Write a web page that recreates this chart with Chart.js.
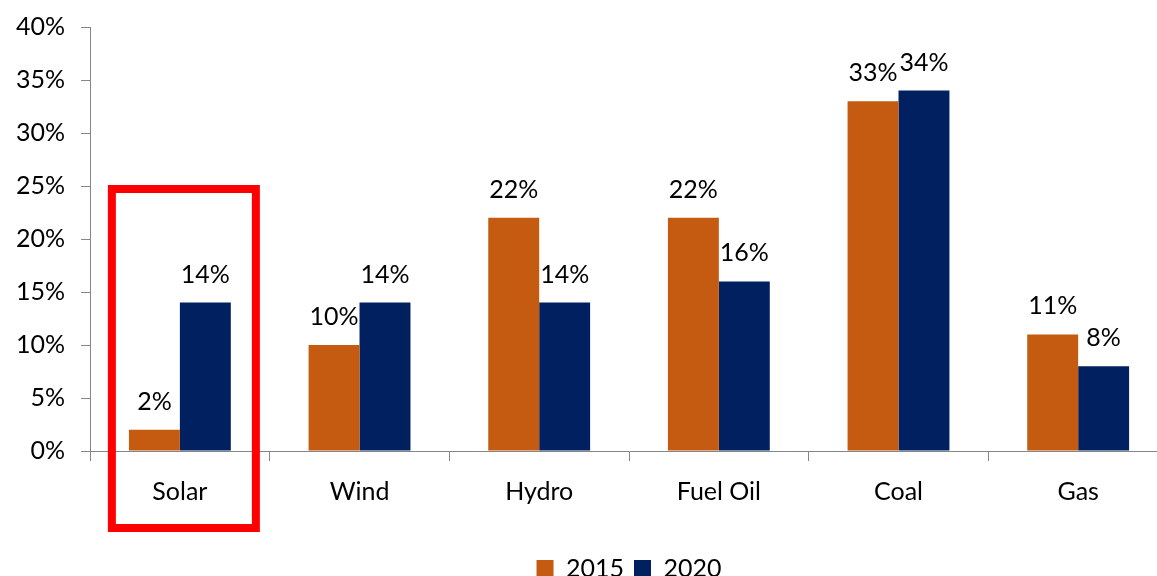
<!DOCTYPE html>
<html>
<head>
<meta charset="utf-8">
<script src="https://cdn.jsdelivr.net/npm/chart.js@4.4.0/dist/chart.umd.min.js"></script>
<style>
  html, body { margin: 0; padding: 0; background: #fff; overflow: hidden; }
  #wrap { width: 1168px; height: 595px; margin-top: -4px; }
</style>
</head>
<body>
<div id="wrap"><canvas id="mixChart"></canvas></div>
<script>
'use strict';

const categories = ['Solar', 'Wind', 'Hydro', 'Fuel Oil', 'Coal', 'Gas'];
const share2015 = [2, 10, 22, 22, 33, 11];
const share2020 = [14, 14, 14, 16, 34, 8];
const yTicks = [0, 5, 10, 15, 20, 25, 30, 35, 40];

const FONT = 'Lato, "Open Sans", sans-serif';

// value labels above each bar
const barLabels = {
    id: 'barLabels',
    afterDatasetsDraw(chart) {
        const ctx = chart.ctx;
        ctx.save();
        ctx.font = '25px ' + FONT;
        ctx.fillStyle = '#000';
        ctx.textAlign = 'center';
        ctx.textBaseline = 'alphabetic';
        chart.data.datasets.forEach((ds, i) => {
            chart.getDatasetMeta(i).data.forEach((bar, j) => {
                ctx.fillText(ds.data[j] + '%', bar.x, bar.y - 20);
            });
        });
        ctx.restore();
    }
};

// red highlight box around Solar
const highlight = {
    id: 'highlight',
    afterDraw(chart) {
        const x = chart.scales.x, y = chart.scales.y;
        const cx = x.getPixelForValue(0);
        const ctx = chart.ctx;
        ctx.save();
        ctx.strokeStyle = '#FF0000';
        ctx.lineWidth = 8;
        const top = y.getPixelForValue(25) + 3;
        const bottom = chart.chartArea.bottom + 77;
        ctx.strokeRect(cx - 68, top, 144, bottom - top);
        ctx.restore();
    }
};

new Chart(document.getElementById('mixChart'), {
    type: 'bar',
    data: {
        labels: categories,
        datasets: [
            { label: '2015', data: share2015, backgroundColor: '#C55A11' },
            { label: '2020', data: share2020, backgroundColor: '#002060' }
        ]
    },
    options: {
        responsive: true,
        maintainAspectRatio: false,
        animation: false,
        layout: { padding: { top: 4, right: 0, left: 0, bottom: 0 } },
        datasets: { bar: { categoryPercentage: 0.567, barPercentage: 1 } },
        plugins: {
            legend: {
                position: 'bottom',
                fullSize: false,
                labels: {
                    boxWidth: 17, boxHeight: 17, padding: 10,
                    color: '#000',
                    font: { family: FONT, size: 25 }
                }
            },
            tooltip: { enabled: false }
        },
        scales: {
            x: {
                grid: { display: true, drawOnChartArea: false, drawTicks: true, tickLength: 10, color: '#868686', offset: true },
                border: { color: '#868686' },
                ticks: { color: '#000', padding: 16, font: { family: FONT, size: 25 } },
                afterFit(axis) { axis.height += 23; }
            },
            y: {
                min: 0, max: 40,
                afterBuildTicks(axis) { axis.ticks = yTicks.map(v => ({ value: v })); },
                grid: { drawOnChartArea: false, drawTicks: true, tickLength: 9, color: '#868686' },
                border: { color: '#868686' },
                ticks: {
                    color: '#000', padding: 16,
                    font: { family: FONT, size: 25 },
                    callback: v => v + '%'
                }
            }
        }
    },
    plugins: [barLabels, highlight]
});
</script>
</body>
</html>
